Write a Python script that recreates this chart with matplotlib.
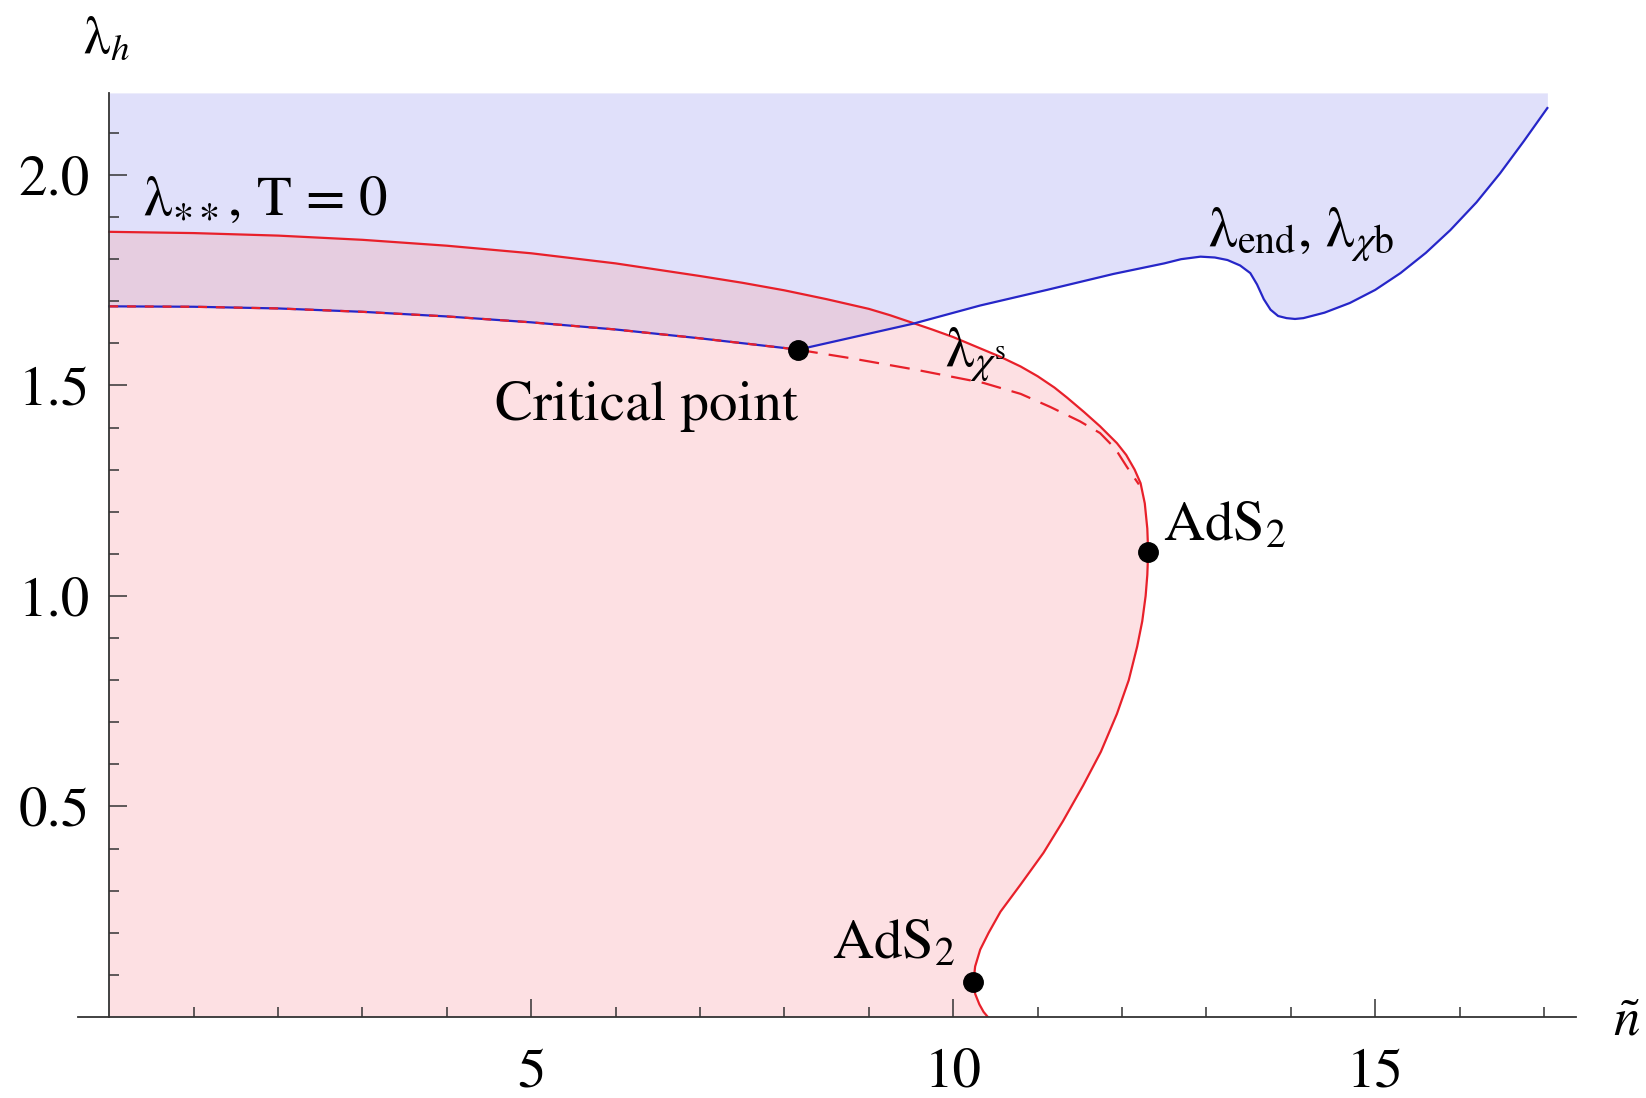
import numpy as np
import matplotlib
matplotlib.use("Agg")
import matplotlib.pyplot as plt
from matplotlib.ticker import FixedLocator

plt.rcParams['font.family'] = ['STIXGeneral', 'DejaVu Serif']
plt.rcParams['mathtext.fontset'] = 'stix'

# lambda_** (T = 0): upper branch down to the first AdS2 point
upper_n = [0, 1, 2, 3, 4, 5, 6, 7, 7.5, 8, 8.5, 9, 9.25, 9.53, 9.75, 10.0, 10.25,
           10.56, 10.8, 11.0, 11.2, 11.35, 11.55, 11.74, 11.94, 12.05, 12.15, 12.22,
           12.27, 12.3, 12.31]
upper_lam = [1.865, 1.862, 1.856, 1.846, 1.832, 1.814, 1.790, 1.760, 1.744, 1.726,
             1.705, 1.682, 1.667, 1.648, 1.633, 1.615, 1.594, 1.568, 1.545, 1.522,
             1.495, 1.471, 1.437, 1.403, 1.363, 1.335, 1.30, 1.268, 1.22, 1.16, 1.105]

# lambda_** continued below the AdS2 point to the n axis
lower_n = [12.31, 12.30, 12.28, 12.24, 12.18, 12.08, 11.94, 11.75, 11.54, 11.3,
           11.07, 10.8, 10.56, 10.42, 10.32, 10.26, 10.24, 10.26, 10.31, 10.36, 10.41]
lower_lam = [1.105, 1.05, 1.0, 0.94, 0.88, 0.80, 0.72, 0.63, 0.55, 0.465,
             0.39, 0.315, 0.25, 0.20, 0.16, 0.12, 0.084, 0.055, 0.03, 0.012, 0.0]

# first-order line up to the critical point
crit_n = [0, 1, 2, 3, 4, 5, 6, 7, 8, 8.16]
crit_lam = [1.688, 1.687, 1.683, 1.675, 1.664, 1.65, 1.633, 1.612, 1.589, 1.585]

# lambda_chi^s (dashed)
chis_n = [8.16, 8.78, 9.57, 10.36, 10.8, 11.15, 11.5, 11.74, 11.92, 12.06, 12.2]
chis_lam = [1.585, 1.565, 1.537, 1.506, 1.48, 1.449, 1.415, 1.387, 1.35, 1.306, 1.265]

# lambda_end, lambda_chi b
end_n = [8.16, 9.53, 10.32, 11.11, 11.9, 12.5, 12.7, 12.93, 13.1, 13.25, 13.4,
         13.52, 13.6, 13.68, 13.76, 13.85, 13.95, 14.05, 14.15, 14.4, 14.7, 15.0,
         15.3, 15.6, 15.89, 16.2, 16.48, 16.76, 17.04]
end_lam = [1.585, 1.647, 1.69, 1.727, 1.765, 1.79, 1.80, 1.806, 1.804, 1.798, 1.785,
           1.767, 1.74, 1.705, 1.68, 1.665, 1.66, 1.658, 1.66, 1.673, 1.696, 1.727,
           1.767, 1.815, 1.869, 1.935, 2.004, 2.08, 2.159]

# marked points
crit_pt = (8.16, 1.585)
ads2_n = [12.31, 10.24]
ads2_lam = [1.105, 0.084]

xmin, xmax = -0.37, 17.38
ymax = 2.195

red = '#E8202A'
blue = '#2626C8'
pink = '#FDE0E3'
lav = '#E0E0FA'
mix = '#E6CDE0'

fig = plt.figure(figsize=(16.46, 10.98), dpi=100)
ax = fig.add_axes([0.0474, 0.0738, 0.9101, 0.8416])
ax.set_xlim(xmin, xmax)
ax.set_ylim(0, ymax)

# boundary of the blue region: first-order line then lambda_end
bnd_n = np.array(crit_n + end_n[1:])
bnd_lam = np.array(crit_lam + end_lam[1:])
ax.fill_between(bnd_n, bnd_lam, ymax, color=lav, lw=0, zorder=0.5)

# pink region under lambda_**
red_n = np.array(upper_n + lower_n[1:])
red_lam = np.array(upper_lam + lower_lam[1:])
ax.fill(np.r_[0, red_n, 0], np.r_[0, red_lam, 0], color=pink, lw=0, zorder=0.6)

# overlap of both regions
xg = np.linspace(0, 12.2, 2000)
top = np.interp(xg, upper_n, upper_lam)
bot = np.interp(xg, bnd_n, bnd_lam)
ax.fill_between(xg, bot, top, where=top > bot, color=mix, lw=0, zorder=0.7)

ax.plot(red_n, red_lam, color=red, lw=1.6, zorder=5)
ax.plot(chis_n, chis_lam, color=red, lw=1.6, dashes=(9, 5), zorder=5)
ax.plot(crit_n, crit_lam, color=blue, lw=1.6, zorder=5)
ax.plot(crit_n, crit_lam, color=red, lw=1.6, dashes=(4, 4), zorder=6)
ax.plot(end_n, end_lam, color=blue, lw=1.6, zorder=5)

ax.plot([crit_pt[0]], [crit_pt[1]], 'o', color='black', ms=14, zorder=8, clip_on=False)
ax.plot(ads2_n, ads2_lam, 'o', color='black', ms=14, zorder=8, linestyle='none',
        clip_on=False)

# axes through the origin
for s in ['top', 'right']:
    ax.spines[s].set_visible(False)
ax.spines['left'].set_position(('data', 0))
for s in ['left', 'bottom']:
    ax.spines[s].set_color('#333333')
    ax.spines[s].set_linewidth(1.3)
    ax.spines[s].set_zorder(9)
ax.xaxis.set_zorder(9)
ax.yaxis.set_zorder(9)

ax.xaxis.set_major_locator(FixedLocator([5, 10, 15]))
ax.xaxis.set_minor_locator(FixedLocator([1, 2, 3, 4, 6, 7, 8, 9, 11, 12, 13, 14, 16, 17]))
ax.yaxis.set_major_locator(FixedLocator([0.5, 1.0, 1.5, 2.0]))
ax.yaxis.set_minor_locator(FixedLocator([0.1, 0.2, 0.3, 0.4, 0.6, 0.7, 0.8, 0.9, 1.1,
                                         1.2, 1.3, 1.4, 1.6, 1.7, 1.8, 1.9, 2.1]))
ax.set_yticklabels(['0.5', '1.0', '1.5', '2.0'])
ax.tick_params(which='both', direction='in', color='#333333', width=1.1, labelsize=41)
ax.tick_params(which='major', length=13)
ax.tick_params(which='minor', length=7)
ax.tick_params(axis='y', pad=14)
ax.tick_params(axis='x', pad=22)

fs = 41
ax.text(-0.31, 2.29, r'λ$_{h}$', fontsize=fs - 3, ha='left', va='baseline', clip_on=False)
ax.text(17.82, -0.043, r'$\tilde{n}$', fontsize=fs - 3, ha='left', va='baseline',
        clip_on=False)
ax.text(0.40, 1.905, r'λ$_{\ast\ast}$, T = 0', fontsize=fs, ha='left', va='baseline',
        zorder=10)
ax.text(4.57, 1.418, 'Critical point', fontsize=fs, ha='left', va='baseline', zorder=10)
ax.text(9.9, 1.544, r'λ$_{\chi^{\mathrm{s}}}$', fontsize=fs, ha='left', va='baseline',
        zorder=10)
ax.text(12.49, 1.131, r'AdS$_2$', fontsize=fs, ha='left', va='baseline', zorder=10)
ax.text(8.56, 0.140, r'AdS$_2$', fontsize=fs, ha='left', va='baseline', zorder=10)
ax.text(13.02, 1.83, r'λ$_{\mathrm{end}}$, λ$_{\chi\mathrm{b}}$', fontsize=fs,
        ha='left', va='baseline', zorder=10)

fig.savefig('out.png', dpi=100)
